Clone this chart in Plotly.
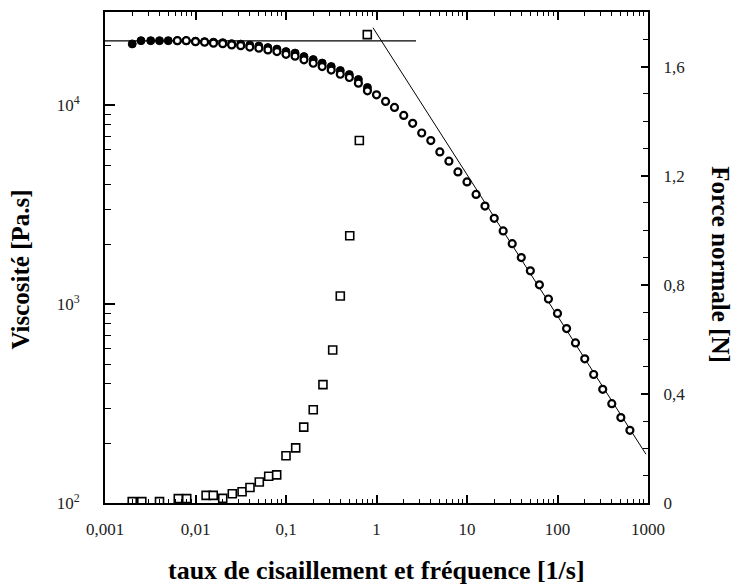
import plotly.graph_objects as go

# ---- data ----
# Viscosity, steady shear (filled circles)
shear_rate = [0.002, 0.0025, 0.0032, 0.004, 0.005, 0.0063, 0.0079, 0.01, 0.0126, 0.0158,
              0.02, 0.0251, 0.0316, 0.0398, 0.0501, 0.0631, 0.0794, 0.1, 0.126, 0.158,
              0.2, 0.251, 0.316, 0.398, 0.501, 0.631, 0.794]
visc_steady = [20390, 21170, 21170, 21170, 21170, 21170, 21170, 21050, 20930, 20810,
               20690, 20460, 20340, 20110, 19880, 19540, 19200, 18650, 18330, 17600,
               17010, 16330, 15690, 14980, 14300, 13500, 12310]

# Viscosity, oscillation (open circles)
frequency = [0.0063, 0.0079, 0.01, 0.0126, 0.0158, 0.02, 0.0251, 0.0316, 0.0398, 0.0501,
             0.0631, 0.0794, 0.1, 0.126, 0.158, 0.2, 0.251, 0.316, 0.398, 0.501,
             0.631, 0.794, 1.0, 1.26, 1.58, 2.0, 2.51, 3.16, 3.98, 5.01,
             6.31, 7.94, 10, 12.6, 15.8, 20, 25.1, 31.6, 39.8, 50.1,
             63.1, 79.4, 100, 126, 158, 200, 251, 316, 398, 501, 631]
visc_osc = [21170, 21170, 20930, 20810, 20570, 20460, 20160, 19990, 19650, 19420,
            19030, 18650, 18080, 17700, 16950, 16300, 15690, 15060, 14350, 13820,
            12940, 11850, 11310, 10470, 9770, 8910, 8124, 7265, 6652, 5833,
            5240, 4630, 4125, 3567, 3116, 2704, 2336, 2017, 1716, 1472,
            1252, 1062, 899, 754, 639, 531, 443, 373, 316, 269, 232]

# Normal force (open squares, right axis)
force_rate = [0.002, 0.00255, 0.004, 0.00645, 0.008, 0.0131, 0.0157, 0.02, 0.0255, 0.0327,
              0.04, 0.0507, 0.0644, 0.0789, 0.1, 0.128, 0.157, 0.2, 0.256, 0.328,
              0.398, 0.506, 0.646, 0.791]
normal_force = [0.005, 0.005, 0.005, 0.016, 0.016, 0.028, 0.028, 0.017, 0.034, 0.041,
                0.057, 0.077, 0.098, 0.103, 0.173, 0.202, 0.278, 0.342, 0.434, 0.561,
                0.759, 0.980, 1.329, 1.717]

# Fitted lines: Newtonian plateau and power law
plateau_x = [0.001, 2.73]
plateau_y = [21100, 21100]
power_x = [0.914, 950]
power_y = [24600, 176]

x_ticks = [0.001, 0.01, 0.1, 1, 10, 100, 1000]
x_labels = ["0,001", "0,01", "0,1", "1", "10", "100", "1000"]
y_ticks = [100, 1000, 10000]
y_labels = ["10<sup>2</sup>", "10<sup>3</sup>", "10<sup>4</sup>"]
y2_ticks = [0, 0.4, 0.8, 1.2, 1.6]
y2_labels = ["0", "0,4", "0,8", "1,2", "1,6"]

serif = "Liberation Serif"

fig = go.Figure()
fig.add_trace(go.Scatter(x=plateau_x, y=plateau_y, mode="lines",
                         line=dict(color="black", width=1.3), showlegend=False))
fig.add_trace(go.Scatter(x=power_x, y=power_y, mode="lines",
                         line=dict(color="black", width=1.0), showlegend=False))
fig.add_trace(go.Scatter(x=shear_rate, y=visc_steady, mode="markers",
                         marker=dict(symbol="circle", size=8, color="black",
                                     line=dict(color="black", width=1)),
                         showlegend=False))
fig.add_trace(go.Scatter(x=frequency, y=visc_osc, mode="markers",
                         marker=dict(symbol="circle", size=7, color="white",
                                     line=dict(color="black", width=2.2)),
                         showlegend=False))
fig.add_trace(go.Scatter(x=force_rate, y=normal_force, mode="markers", yaxis="y2",
                         marker=dict(symbol="square", size=8, color="white",
                                     line=dict(color="black", width=1.6)),
                         showlegend=False))

def minor_log(lo, hi):
    vals = []
    for e in range(lo, hi):
        for m in range(2, 10):
            vals.append(m * 10 ** e)
    return vals

fig.update_layout(
    width=733, height=588,
    margin=dict(l=105, r=85, t=10, b=85),
    paper_bgcolor="white", plot_bgcolor="white",
    font=dict(family=serif, color="black"),
    xaxis=dict(
        type="log", range=[-3, 3],
        tickmode="array", tickvals=x_ticks, ticktext=x_labels,
        ticks="inside", ticklen=8, tickwidth=1.5, tickcolor="black",
        minor=dict(tickmode="array", tickvals=minor_log(-3, 3), ticks="inside",
                   ticklen=4, tickwidth=1.2, tickcolor="black", showgrid=False),
        showline=True, linewidth=2, linecolor="black", mirror="ticks",
        showgrid=False, zeroline=False,
        tickfont=dict(family=serif, size=17, color="#222"),
        ticklabelstandoff=10,
    ),
    yaxis=dict(
        type="log", range=[2, 4.47],
        tickmode="array", tickvals=y_ticks, ticktext=y_labels,
        ticks="inside", ticklen=10, tickwidth=1.5, tickcolor="black",
        minor=dict(tickmode="array", tickvals=minor_log(2, 5), ticks="inside",
                   ticklen=6, tickwidth=1.2, tickcolor="black", showgrid=False),
        showline=True, linewidth=2, linecolor="black",
        showgrid=False, zeroline=False,
        tickfont=dict(family=serif, size=17, color="#222"),
        ticklabelstandoff=20,
    ),
    yaxis2=dict(
        overlaying="y", side="right", range=[0, 1.8],
        tickmode="array", tickvals=y2_ticks, ticktext=y2_labels,
        ticks="inside", ticklen=7, tickwidth=1.5, tickcolor="black",
        minor=dict(dtick=0.1, ticks="inside", ticklen=5, tickwidth=1.2,
                   tickcolor="black", showgrid=False),
        showline=True, linewidth=2, linecolor="black",
        showgrid=False, zeroline=False,
        tickfont=dict(family=serif, size=17, color="#222"),
        ticklabelstandoff=10,
    ),
    annotations=[
        dict(text="<b>taux de cisaillement et fréquence [1/s]</b>", x=0.5, y=-0.137,
             xref="paper", yref="paper", showarrow=False, xanchor="center", yanchor="middle",
             font=dict(family=serif, size=26, color="black")),
        dict(text="<b>Viscosité [Pa.s]</b>", x=-0.155, y=0.475, textangle=-90,
             xref="paper", yref="paper", showarrow=False, xanchor="center", yanchor="middle",
             font=dict(family=serif, size=25, color="black")),
        dict(text="<b>Force normale [N]</b>", x=1.132, y=0.485, textangle=90,
             xref="paper", yref="paper", showarrow=False, xanchor="center", yanchor="middle",
             font=dict(family=serif, size=25, color="black")),
    ],
)

fig.write_html("out.html", config={"displayModeBar": False},
               post_script="document.body.style.margin='0';")
